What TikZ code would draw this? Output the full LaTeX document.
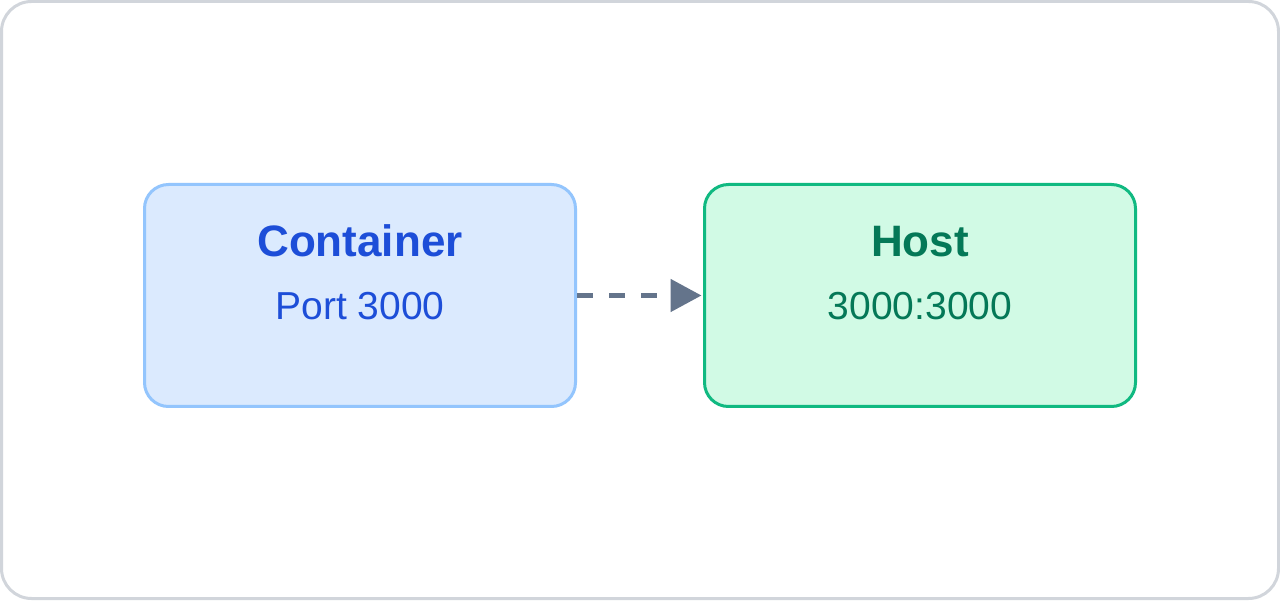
\documentclass[tikz,border=0pt]{standalone}
\usepackage{fontspec}
\setmainfont{Liberation Sans}
\usetikzlibrary{arrows.meta}
\definecolor{frame}{HTML}{D1D5DB}
\definecolor{cfill}{HTML}{DBEAFE}
\definecolor{cdraw}{HTML}{93C5FD}
\definecolor{ctext}{HTML}{1D4ED8}
\definecolor{hfill}{HTML}{D1FAE5}
\definecolor{hdraw}{HTML}{10B981}
\definecolor{htext}{HTML}{047857}
\definecolor{link}{HTML}{64748B}
\tikzset{
	box/.style={draw, rounded corners=24pt, line width=3pt, minimum width=431pt, minimum height=222pt, inner sep=0pt},
	title/.style={anchor=base, font=\fontsize{44}{50}\selectfont\bfseries},
	sub/.style={anchor=base, font=\fontsize{39}{46}\selectfont},
}

\begin{document}
\begin{tikzpicture}[x=1pt, y=1pt]
	\useasboundingbox (0,0) rectangle (1280,600);
	\draw[frame, line width=3pt, fill=white, rounded corners=30pt] (1.5,1.5) rectangle (1278.5,598.5);
	% boxes
	\node[box, draw=cdraw, fill=cfill] (container) at (360,304.5) {};
	\node[box, draw=hdraw, fill=hfill] (host) at (920,304.5) {};
	\node[title, text=ctext] (containername) at (360,343) {Container};
	\node[sub, text=ctext] (containerport) at (360,280) {Port 3000};
	\node[title, text=htext] (hostname) at (920,343) {Host};
	\node[sub, text=htext] (hostport) at (920,280) {3000:3000};
	% mapping
	\draw[-{Triangle[length=31pt, width=32pt]}, link, line width=5pt, dash pattern=on 16pt off 16pt, shorten >=1.5pt] (container.east) -- (host.west);
\end{tikzpicture}
\end{document}
